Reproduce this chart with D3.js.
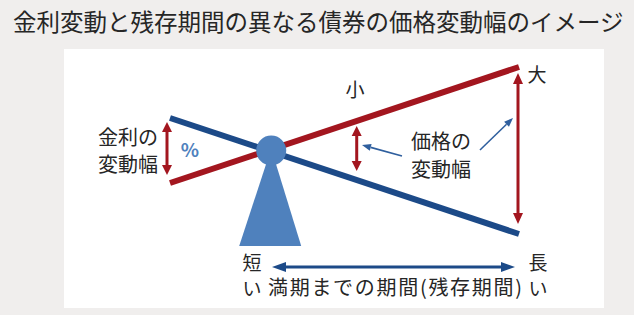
<!DOCTYPE html>
<html lang="ja">
<head>
<meta charset="UTF-8">
<script src="https://cdn.jsdelivr.net/npm/d3@7/dist/d3.min.js"></script>
<style>
  body { margin: 0; background: #f0eeed; }
  text { font-family: 'Noto Sans CJK JP', sans-serif; fill: #262626; }
</style>
</head>
<body>
<div id="chart"></div>
<script>
// maturity (0 = short, 1 = long) and relative price move
var maturity = [0, 1];
var redLine = [-31, 85];   // upper line at the long end
var blueLine = [34, -82];  // lower line at the long end
var pivot = 0.29;
var arrowAt = [0.535];     // middle price arrow
var labelsShort = ["短", "い"];
var labelsLong = ["長", "い"];

var W = 634, H = 315;
var svg = d3.select("#chart").append("svg")
  .attr("width", W).attr("height", H);

var x = d3.scaleLinear().domain([0, 1]).range([170, 519]);
var y = d3.scaleLinear().domain([-100, 100]).range([252, 52]);

var RED = "#a3161f", NAVY = "#1c4a88", FUL = "#4f81bd";

// title
svg.append("text")
  .attr("x", 13).attr("y", 31)
  .style("font-size", "23.5px")
  .text("金利変動と残存期間の異なる債券の価格変動幅のイメージ");

// white panel
svg.append("rect")
  .attr("x", 64).attr("y", 49).attr("width", 540).attr("height", 259)
  .attr("fill", "#fff");

function at(arr, t) { return arr[0] + t * (arr[1] - arr[0]); }
var py = y((at(redLine, pivot) + at(blueLine, pivot)) / 2);

// fulcrum base
svg.append("path")
  .attr("d", "M" + x(pivot) + "," + (py - 2) + " L" + (x(pivot) + 30) + ",246 L" + (x(pivot) - 32) + ",246 Z")
  .attr("fill", FUL);

// lines
var line = d3.line().x(function(d){ return x(d[0]); }).y(function(d){ return y(d[1]); });
svg.append("path")
  .attr("d", line(d3.zip(maturity, blueLine)))
  .attr("stroke", NAVY).attr("stroke-width", 6).attr("fill", "none");
svg.append("path")
  .attr("d", line(d3.zip(maturity, redLine)))
  .attr("stroke", RED).attr("stroke-width", 6).attr("fill", "none");

svg.append("circle").attr("cx", x(pivot)).attr("cy", py).attr("r", 15).attr("fill", FUL);

// double arrow helper
function dblArrow(x1, y1, x2, y2, col, sw, hl, hw) {
  var dx = x2 - x1, dy = y2 - y1, len = Math.sqrt(dx*dx + dy*dy);
  var ux = dx/len, uy = dy/len, nx = -uy, ny = ux;
  svg.append("line")
    .attr("x1", x1 + ux*hl*0.8).attr("y1", y1 + uy*hl*0.8)
    .attr("x2", x2 - ux*hl*0.8).attr("y2", y2 - uy*hl*0.8)
    .attr("stroke", col).attr("stroke-width", sw);
  [[x1, y1, 1], [x2, y2, -1]].forEach(function(p) {
    var bx = p[0] + ux*hl*p[2], by = p[1] + uy*hl*p[2];
    svg.append("path")
      .attr("d", "M" + p[0] + "," + p[1] + " L" + (bx + nx*hw) + "," + (by + ny*hw) +
        " L" + (bx - nx*hw) + "," + (by - ny*hw) + " Z")
      .attr("fill", col);
  });
}
function oneArrow(x1, y1, x2, y2, col) {
  var dx = x2 - x1, dy = y2 - y1, len = Math.sqrt(dx*dx + dy*dy);
  var ux = dx/len, uy = dy/len, nx = -uy, ny = ux, hl = 9, hw = 3.5;
  svg.append("line")
    .attr("x1", x1).attr("y1", y1).attr("x2", x2 - ux*hl).attr("y2", y2 - uy*hl)
    .attr("stroke", col).attr("stroke-width", 1.6);
  var bx = x2 - ux*hl, by = y2 - uy*hl;
  svg.append("path")
    .attr("d", "M" + x2 + "," + y2 + " L" + (bx + nx*hw) + "," + (by + ny*hw) +
      " L" + (bx - nx*hw) + "," + (by - ny*hw) + " Z")
    .attr("fill", col);
}

// rate change arrow at short end
dblArrow(x(0) - 3, y(blueLine[0]) + 4, x(0) - 3, y(redLine[0]) - 8, RED, 3, 10, 5);
// price change arrows
var mid = arrowAt[0];
var rMid = at(redLine, mid);
dblArrow(x(mid), y(rMid) + 5, x(mid), y(rMid) + 50, RED, 3, 10, 5);
dblArrow(x(1) - 1, y(redLine[1]) + 6, x(1) - 1, y(blueLine[1]) - 10, RED, 3, 11, 5);

// pointer arrows
oneArrow(402, 156, 362, 145, "#2f5f9e");
oneArrow(480, 150, 513, 118, "#2f5f9e");

// maturity arrow
dblArrow(x(0) + 102, 267, x(1) - 4, 267, NAVY, 3, 14, 5);

// labels
var fs = "20px";
svg.append("text").attr("x", 158).attr("y", 145).attr("text-anchor", "end").style("font-size", fs).text("金利の");
svg.append("text").attr("x", 158).attr("y", 172).attr("text-anchor", "end").style("font-size", fs).text("変動幅");
svg.append("text").attr("x", 190).attr("y", 157).attr("text-anchor", "middle").style("font-size", "19px")
  .style("fill", FUL).style("font-weight", "bold").text("%");
svg.append("text").attr("x", 355).attr("y", 97).attr("text-anchor", "middle").style("font-size", "19px").text("小");
svg.append("text").attr("x", 537).attr("y", 82).attr("text-anchor", "middle").style("font-size", "19px").text("大");
svg.append("text").attr("x", 441).attr("y", 149).attr("text-anchor", "middle").style("font-size", fs).text("価格の");
svg.append("text").attr("x", 441).attr("y", 177).attr("text-anchor", "middle").style("font-size", fs).text("変動幅");

labelsShort.forEach(function(t, i) {
  svg.append("text").attr("x", 252).attr("y", 270 + i*26).attr("text-anchor", "middle").style("font-size", "19px").text(t);
});
labelsLong.forEach(function(t, i) {
  svg.append("text").attr("x", 538).attr("y", 270 + i*26).attr("text-anchor", "middle").style("font-size", "19px").text(t);
});
svg.append("text").attr("x", 395).attr("y", 295).attr("text-anchor", "middle").style("font-size", "20px")
  .attr("textLength", 254).text("満期までの期間(残存期間)");
</script>
</body>
</html>
